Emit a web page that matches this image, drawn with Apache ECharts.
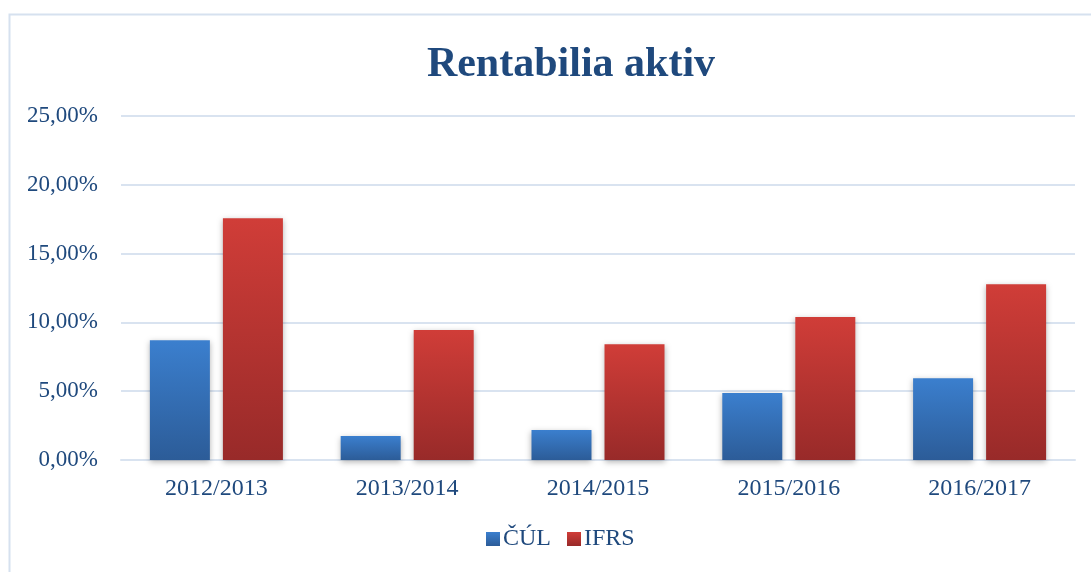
<!DOCTYPE html>
<html><head><meta charset="utf-8">
<script src="https://cdn.jsdelivr.net/npm/echarts@6/dist/echarts.min.js"></script>
<style>html,body{margin:0;padding:0;background:#fff}#c{width:1091px;height:572px}</style>
</head><body><div id="c"></div>
<script>
const categories = ['2012/2013','2013/2014','2014/2015','2015/2016','2016/2017'];
const culValues = [8.71, 1.74, 2.18, 4.87, 5.95];
const ifrsValues = [17.57, 9.44, 8.42, 10.39, 12.78];
const seriesNames = ['ČÚL', 'IFRS'];

const chart = echarts.init(document.getElementById('c'));
const fmt = v => v.toFixed(2).replace('.', ',') + '%';
const font = '"Liberation Serif","Times New Roman",serif';
const textColor = '#1F497D';
const blue = new echarts.graphic.LinearGradient(0,0,0,1,[{offset:0,color:'#3B7FCE'},{offset:1,color:'#2C5C98'}]);
const red = new echarts.graphic.LinearGradient(0,0,0,1,[{offset:0,color:'#D03D38'},{offset:1,color:'#982A29'}]);
chart.setOption({
  animation:false,
  graphic:[{type:'rect',shape:{x:9.5,y:14.5,width:1100,height:600},style:{fill:'none',stroke:'#D6E1EF',lineWidth:2},silent:true}],
  title:{text:'Rentabilia aktiv',left:566,textAlign:'center',top:39,textStyle:{fontFamily:font,fontSize:42,fontWeight:'bold',color:'#1F497D'}},
  legend:{bottom:16,left:481,itemWidth:14,itemHeight:14,itemGap:16,icon:'rect',
    textStyle:{fontFamily:font,fontSize:24,color:textColor,padding:[0,0,0,-2]},data:seriesNames},
  grid:{left:121,right:16,top:116,bottom:112,containLabel:false},
  xAxis:{type:'category',data:categories,axisTick:{show:false},
    axisLine:{lineStyle:{color:'#D9E3F0',width:2}},
    axisLabel:{fontFamily:font,fontSize:24,color:textColor,margin:17}},
  yAxis:{type:'value',min:0,max:25,interval:5,
    axisLabel:{fontFamily:font,fontSize:23,color:textColor,margin:23,formatter:fmt},
    splitLine:{lineStyle:{color:'#D9E3F0',width:2}},axisLine:{show:false},axisTick:{show:false}},
  series:[
    {name:seriesNames[0],type:'bar',data:culValues,barWidth:60,barGap:'21.7%',
      itemStyle:{color:blue,shadowColor:'rgba(0,0,0,0.3)',shadowBlur:6,shadowOffsetY:2}},
    {name:seriesNames[1],type:'bar',data:ifrsValues,barWidth:60,
      itemStyle:{color:red,shadowColor:'rgba(0,0,0,0.3)',shadowBlur:6,shadowOffsetY:2}}
  ]
});
</script></body></html>
